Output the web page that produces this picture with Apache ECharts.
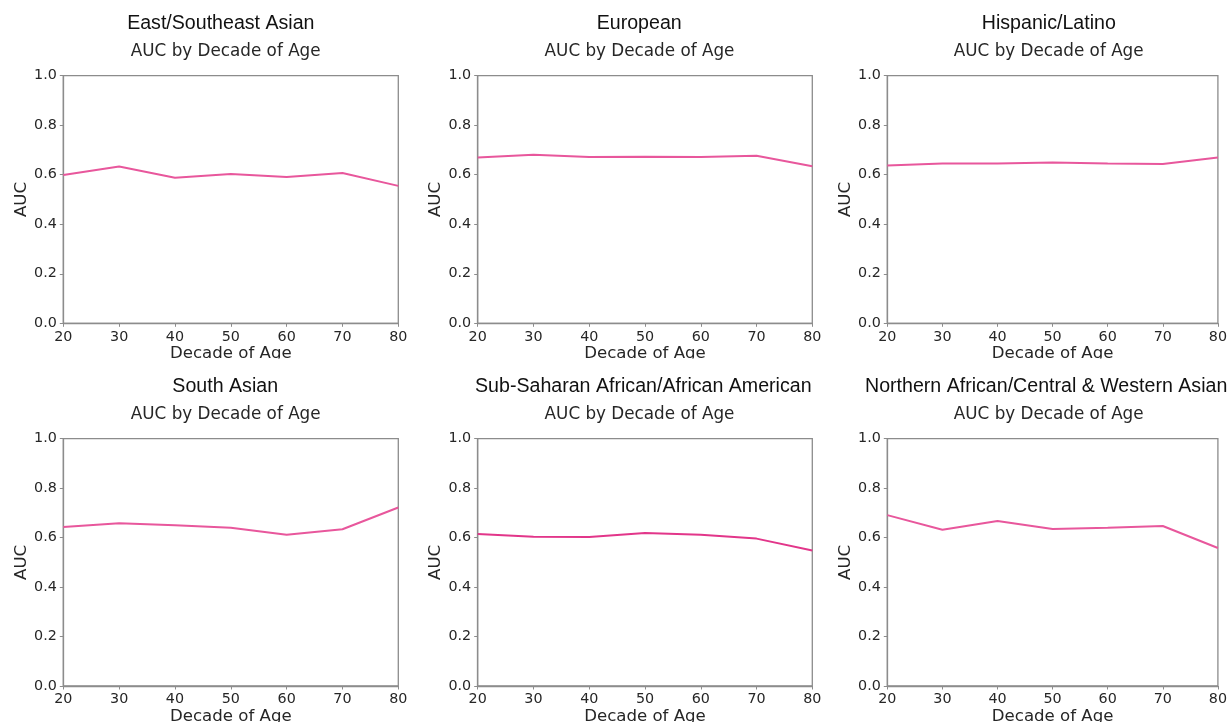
<!DOCTYPE html>
<html>
<head>
<meta charset="utf-8">
<script src="https://cdn.jsdelivr.net/npm/echarts@6/dist/echarts.min.js"></script>
<style>
html,body{margin:0;padding:0;background:#fff;}
#chart{width:1230px;height:726px;}
</style>
</head>
<body>
<div id="chart"></div>
<script>
// ---- data ----
const decades = [20, 30, 40, 50, 60, 70, 80];
const groupNames = [
  'East/Southeast Asian',
  'European',
  'Hispanic/Latino',
  'South Asian',
  'Sub-Saharan African/African American',
  'Northern African/Central & Western Asian'
];
const eastSoutheastAsian = [0.599, 0.633, 0.588, 0.603, 0.591, 0.607, 0.555];
const european           = [0.670, 0.681, 0.672, 0.673, 0.672, 0.677, 0.634];
const hispanicLatino     = [0.637, 0.645, 0.645, 0.649, 0.645, 0.643, 0.670];
const southAsian         = [0.643, 0.658, 0.650, 0.640, 0.612, 0.634, 0.722];
const subSaharanAfrican  = [0.615, 0.604, 0.603, 0.619, 0.612, 0.596, 0.548];
const northernAfrican    = [0.691, 0.632, 0.667, 0.635, 0.640, 0.647, 0.558];
const yTicks = [0.0, 0.2, 0.4, 0.6, 0.8, 1.0];
const subTitle = 'AUC by Decade of Age';
const xName = 'Decade of Age';
const yName = 'AUC';

const seriesData = [eastSoutheastAsian, european, hispanicLatino, southAsian, subSaharanAfrican, northernAfrican];

// ---- layout ----
const colLeft = [63.3, 477.7, 887.3];
const colWidth = [335, 334.6, 334.5];
const rowTop = [75.7, 438.7];
const rowHeight = [247.6, 248.3];
const supCenters = [220.8, 639.2, 1048.8, 225.2, 643.3, null];
const subCenters = [225.7, 639.5, 1048.7, 225.7, 639.5, 1048.7];
const supY = [13.2, 376.2];
const subY = [42.8, 406.3];
const lineColors = ['#e8579c', '#e8579c', '#e8579c', '#e8579c', '#e2368a', '#e8579c'];

const grids = [], xAxes = [], yAxes = [], series = [], titles = [];
const axisGray = '#8c8c8c';
const labelColor = '#262626';
const dv = 'DejaVu Sans';

for (let i = 0; i < 6; i++) {
  const r = Math.floor(i / 3), c = i % 3;
  grids.push({
    left: colLeft[c], top: rowTop[r], width: colWidth[c], height: rowHeight[r],
    show: true, borderColor: axisGray, borderWidth: 1.3, backgroundColor: 'transparent'
  });
  xAxes.push({
    type: 'value', gridIndex: i, min: 20, max: 80, interval: 10,
    name: xName, nameLocation: 'middle', nameGap: 22,
    nameTextStyle: { fontFamily: dv, fontSize: 16.6, color: labelColor },
    axisLine: { show: true, lineStyle: { color: axisGray, width: 1.3 } },
    axisTick: { show: true, length: 3.5, lineStyle: { color: axisGray, width: 1 } },
    axisLabel: { margin: 6.5, fontFamily: dv, fontSize: 14.3, color: labelColor,
      formatter: v => String(v) },
    splitLine: { show: false }
  });
  yAxes.push({
    type: 'value', gridIndex: i, min: yTicks[0], max: yTicks[yTicks.length - 1], interval: 0.2,
    name: yName, nameLocation: 'middle', nameGap: 30, nameRotate: 90,
    nameTextStyle: { fontFamily: dv, fontSize: 16.6, color: labelColor },
    axisLine: { show: true, lineStyle: { color: axisGray, width: 1.3 } },
    axisTick: { show: true, length: 3.5, lineStyle: { color: axisGray, width: 1 } },
    axisLabel: { margin: 6.5, fontFamily: dv, fontSize: 14.3, color: labelColor,
      formatter: v => v.toFixed(1) },
    splitLine: { show: false }
  });
  series.push({
    type: 'line', xAxisIndex: i, yAxisIndex: i,
    data: decades.map((d, k) => [d, seriesData[i][k]]),
    showSymbol: false, symbol: 'none',
    lineStyle: { color: lineColors[i], width: 2 },
    itemStyle: { color: lineColors[i] },
    animation: false
  });
  const sup = {
    text: groupNames[i], top: supY[r], padding: 0,
    textStyle: { fontFamily: 'Liberation Sans', fontSize: 19.6, fontWeight: 'normal', color: '#111' }
  };
  if (supCenters[i] === null) { sup.left = 865; sup.textAlign = 'left'; }
  else { sup.left = supCenters[i]; sup.textAlign = 'center'; }
  titles.push(sup);
  titles.push({
    text: subTitle, left: subCenters[i], textAlign: 'center', top: subY[r], padding: 0,
    textStyle: { fontFamily: dv, fontSize: 16.8, fontWeight: 'normal', color: labelColor }
  });
}

const chart = echarts.init(document.getElementById('chart'), null, { renderer: 'canvas' });
chart.setOption({
  backgroundColor: '#ffffff',
  animation: false,
  title: titles,
  grid: grids,
  xAxis: xAxes,
  yAxis: yAxes,
  series: series,
  graphic: [
    { type: 'rect', z: 100, shape: { x: 0, y: 358.5, width: 1230, height: 5 }, style: { fill: '#ffffff' } },
    { type: 'rect', z: 100, shape: { x: 0, y: 722, width: 1230, height: 4 }, style: { fill: '#ffffff' } }
  ]
});
</script>
</body>
</html>
